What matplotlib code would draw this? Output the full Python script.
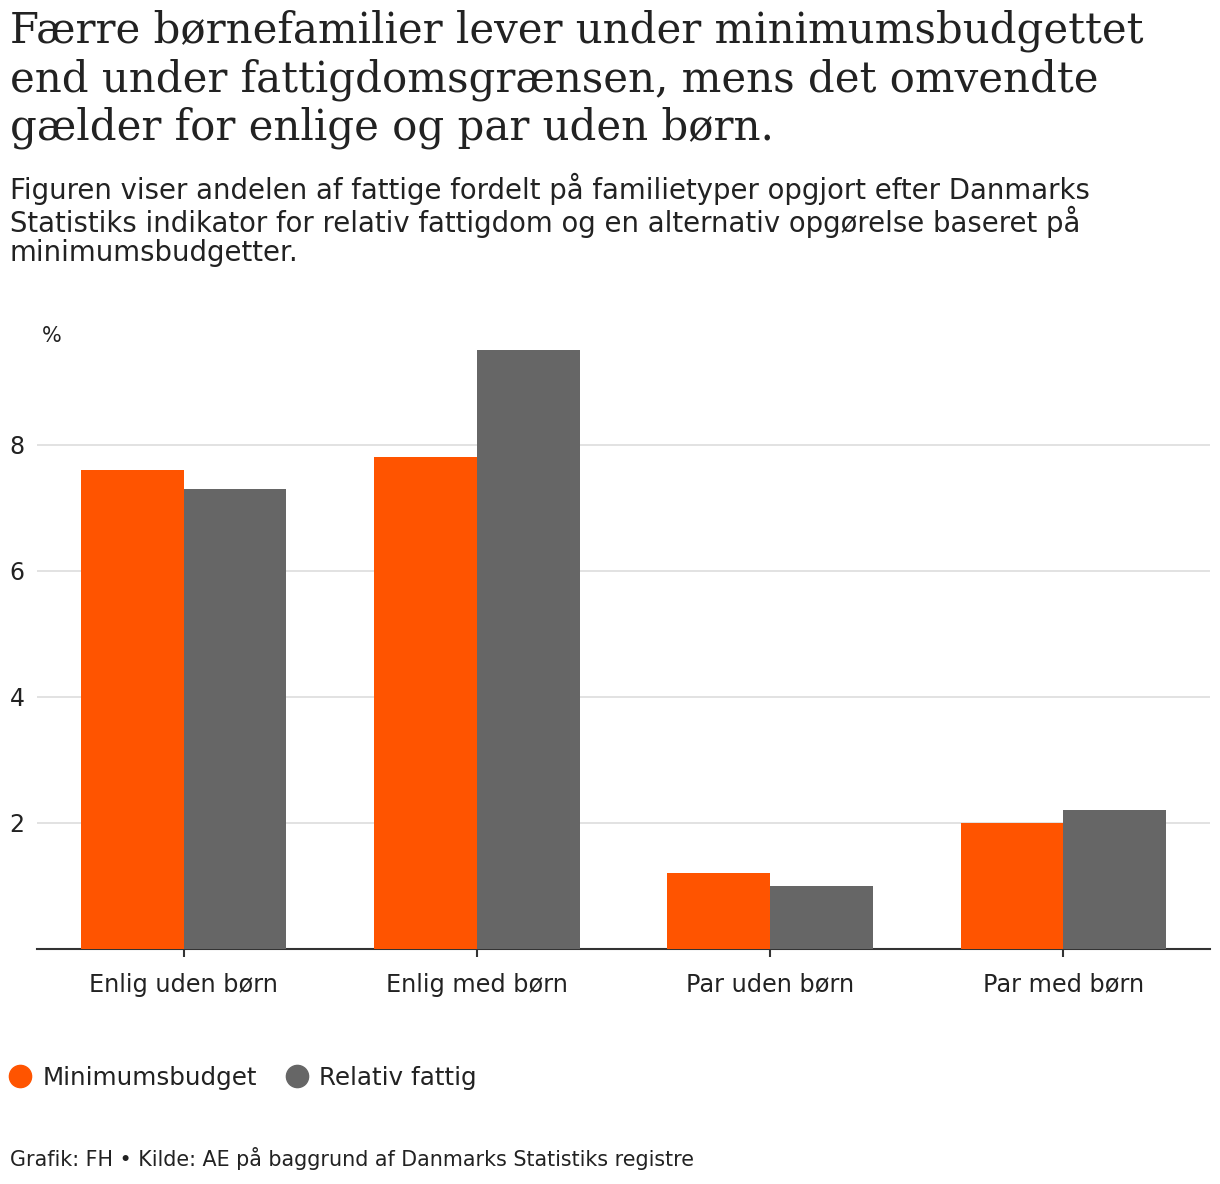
import numpy as np
import matplotlib.pyplot as plt
from matplotlib.lines import Line2D

categories = ["Enlig uden børn", "Enlig med børn", "Par uden børn", "Par med børn"]
minimumsbudget = [7.6, 7.8, 1.2, 2.0]
relativ_fattig = [7.3, 9.5, 1.0, 2.2]
series_names = ["Minimumsbudget", "Relativ fattig"]
yticks = [2, 4, 6, 8]

ORANGE = "#FF5400"
GRAY = "#666666"
TEXT = "#222222"
SANS = ["DejaVu Sans"]

W, H = 1220, 1184
fig = plt.figure(figsize=(W / 100, H / 100), dpi=100)
fig.patch.set_facecolor("white")

ax = fig.add_axes([37 / W, 1 - 949 / H, 1173 / W, 599 / H])

x = np.arange(len(categories))
bw = 0.35
ax.bar(x - bw / 2, minimumsbudget, bw, color=ORANGE, zorder=3)
ax.bar(x + bw / 2, relativ_fattig, bw, color=GRAY, zorder=3)

ax.set_xlim(-0.5, 3.5)
ax.set_ylim(0, 9.5)
ax.set_yticks(yticks)
ax.set_yticklabels([str(t) for t in yticks], family=SANS, fontsize=17, color=TEXT)
ax.set_xticks(x)
ax.set_xticklabels(categories, family=SANS, fontsize=17.3, color=TEXT)
ax.grid(axis="y", color="#DDDDDD", linewidth=1.2, zorder=0)
for s in ["top", "right", "left"]:
    ax.spines[s].set_visible(False)
ax.spines["bottom"].set_color("#333333")
ax.spines["bottom"].set_linewidth(1.5)
ax.tick_params(axis="y", length=0, pad=9)
ax.tick_params(axis="x", length=6, width=1.5, color="#333333", pad=11)

fig.text(42 / W, 1 - 336 / H, "%", family=SANS, fontsize=15, color=TEXT, va="center")

title = ("Færre børnefamilier lever under minimumsbudgettet\n"
         "end under fattigdomsgrænsen, mens det omvendte\n"
         "gælder for enlige og par uden børn.")
fig.text(10 / W, 1 - 10 / H, title, family=["DejaVu Serif"], fontsize=30.2,
         color=TEXT, va="top", linespacing=1.17)

subtitle = ("Figuren viser andelen af fattige fordelt på familietyper opgjort efter Danmarks\n"
            "Statistiks indikator for relativ fattigdom og en alternativ opgørelse baseret på\n"
            "minimumsbudgetter.")
fig.text(10 / W, 1 - 173 / H, subtitle, family=SANS, fontsize=19.8,
         color=TEXT, va="top", linespacing=1.03)

handles = [Line2D([], [], marker="o", linestyle="", markersize=16, color=c)
           for c in [ORANGE, GRAY]]
fig.legend(handles, series_names, loc="center left",
           bbox_to_anchor=(9 / W, 1 - 1078 / H), ncol=2, frameon=False,
           prop={"family": SANS, "size": 17.7}, handlelength=0.9,
           handletextpad=0.45, columnspacing=1.2, labelcolor=TEXT,
           borderpad=0, borderaxespad=0)

fig.text(10 / W, 1 - 1158 / H,
         "Grafik: FH • Kilde: AE på baggrund af Danmarks Statistiks registre",
         family=SANS, fontsize=14.9, color=TEXT, va="center")

fig.savefig("out.png", dpi=100)
